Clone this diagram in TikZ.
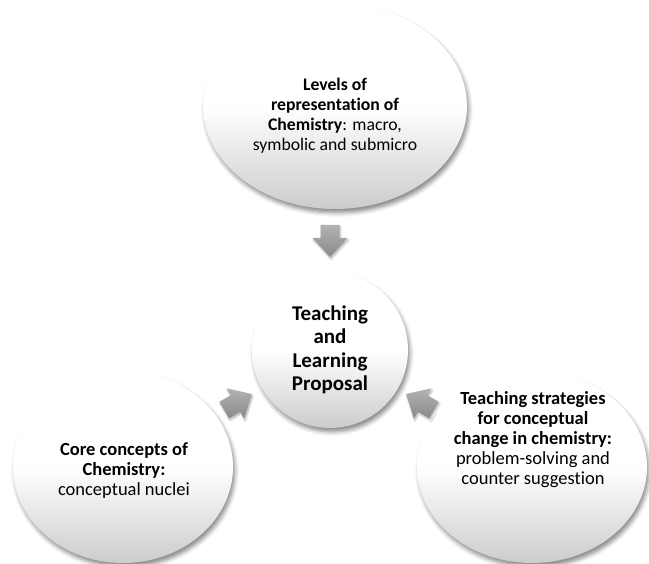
\documentclass[tikz,border=0pt]{standalone}
\usepackage{fontspec}
\setmainfont{Carlito}[Ligatures=NoCommon]
\usetikzlibrary{shapes.geometric,shadows.blur}

\begin{document}
\begin{tikzpicture}[x=1pt,y=-1pt,
  bubble/.style={ellipse,inner sep=0pt,top color=white,bottom color=black!20,middle color=white,
    blur shadow={shadow xshift=2pt,shadow yshift=-4pt,shadow blur radius=4pt,shadow opacity=45}},
  btext/.style={align=center,inner sep=0pt,font=\fontsize{18.5}{20}\selectfont},
  push/.style={top color=black!30,bottom color=black!46,
    blur shadow={shadow xshift=1pt,shadow yshift=-2pt,shadow blur radius=2pt,shadow opacity=30}}]
\useasboundingbox (0,0) rectangle (649,564);

% the three sources and the proposal in the middle
\node[bubble,minimum width=264pt,minimum height=206pt] (levels) at (335,106) {};
\node[bubble,minimum width=220pt,minimum height=192pt] (core) at (123,467) {};
\node[bubble,minimum width=230pt,minimum height=192pt] (strat) at (532,467) {};
\node[bubble,minimum size=156pt] (prop) at (330,350) {};

\node[btext,font=\fontsize{17.7}{20}\selectfont] (levelsT) at (335,116)
  {\textbf{Levels of}\\ \textbf{representation of}\\ \textbf{Chemistry}: macro,\\ symbolic and submicro};
\node[btext] (coreT) at (124,471)
  {\textbf{Core concepts of}\\ \textbf{Chemistry:}\\ conceptual nuclei};
\node[btext] (stratT) at (533,440)
  {\textbf{Teaching strategies}\\ \textbf{for conceptual}\\ \textbf{change in chemistry:}\\ problem-solving and\\ counter suggestion};
\node[btext,font=\bfseries\fontsize{21}{23.5}\selectfont] (propT) at (330,350)
  {Teaching\\ and\\ Learning\\ Proposal};

% block arrows into the middle
\foreach \p/\a in {{(330,241)}/-90, {(238,402)}/30, {(420,402)}/150}
  \path[push,shift={\p},rotate=\a]
    (-16,-9.5) -- (-3,-9.5) -- (-3,-17.5) -- (16,0) -- (-3,17.5) -- (-3,9.5) -- (-16,9.5) -- cycle;
\end{tikzpicture}
\end{document}
